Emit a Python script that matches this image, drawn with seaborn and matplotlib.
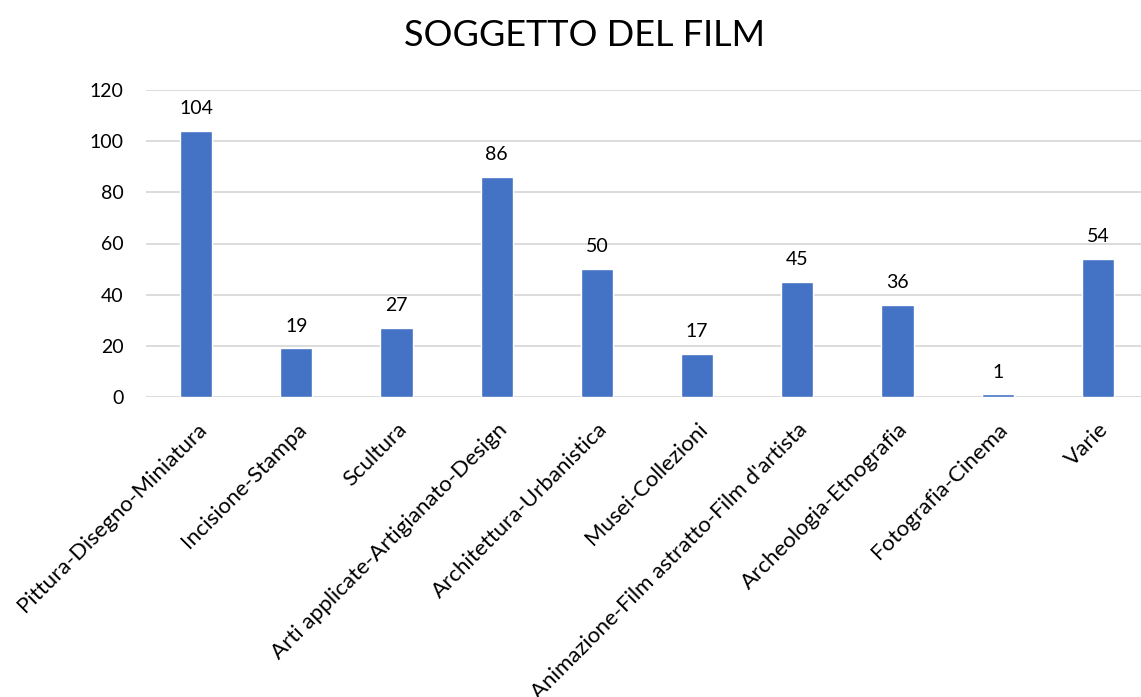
import matplotlib
matplotlib.use("Agg")
import matplotlib.pyplot as plt
import seaborn as sns
import pandas as pd

categories = [
    "Pittura-Disegno-Miniatura",
    "Incisione-Stampa",
    "Scultura",
    "Arti applicate-Artigianato-Design",
    "Architettura-Urbanistica",
    "Musei-Collezioni",
    "Animazione-Film astratto-Film d'artista",
    "Archeologia-Etnografia",
    "Fotografia-Cinema",
    "Varie",
]
counts = [104, 19, 27, 86, 50, 17, 45, 36, 1, 54]
y_ticks = [0, 20, 40, 60, 80, 100, 120]

sns.set_theme(style="white")
plt.rcParams["font.family"] = ["Lato", "DejaVu Sans"]

df = pd.DataFrame({"soggetto": categories, "n": counts})

W, H = 1141, 697
fig = plt.figure(figsize=(W / 100, H / 100), dpi=100)
left, bottom_px, top_px = 146, 397, 90
ax = fig.add_axes([left / W, 1 - bottom_px / H, 1002 / W, (bottom_px - top_px) / H])

sns.barplot(data=df, x="soggetto", y="n", color="#4472C4", width=0.32,
            saturation=1, ax=ax, zorder=3)

ax.set_xlim(-0.5, len(categories) - 0.5)
ax.set_ylim(0, 120)
ax.set_yticks(y_ticks)
ax.yaxis.grid(True, color="#D9D9D9", linewidth=1.3, zorder=0)
ax.set_axisbelow(True)
for s in ax.spines.values():
    s.set_visible(False)
ax.set_xlabel("")
ax.set_ylabel("")
ax.tick_params(axis="y", length=0, pad=16, labelsize=14, labelcolor="#000000")
ax.tick_params(axis="x", length=0, pad=16, labelsize=16, labelcolor="#000000")
ax.set_xticks(range(len(categories)))
ax.set_xticklabels(categories, rotation=45, ha="right", rotation_mode="anchor")
for lbl in ax.get_xticklabels():
    lbl.set_x(lbl.get_position()[0])

for i, v in enumerate(counts):
    ax.annotate(str(v), (i, v), xytext=(0, 10), textcoords="offset points",
                ha="center", va="bottom", fontsize=14, color="#000000")

fig.text(584 / W, 1 - 35 / H, "SOGGETTO DEL FILM", ha="center", va="center",
         fontsize=26, color="#000000")

fig.savefig("out.png", dpi=100, facecolor="white")
